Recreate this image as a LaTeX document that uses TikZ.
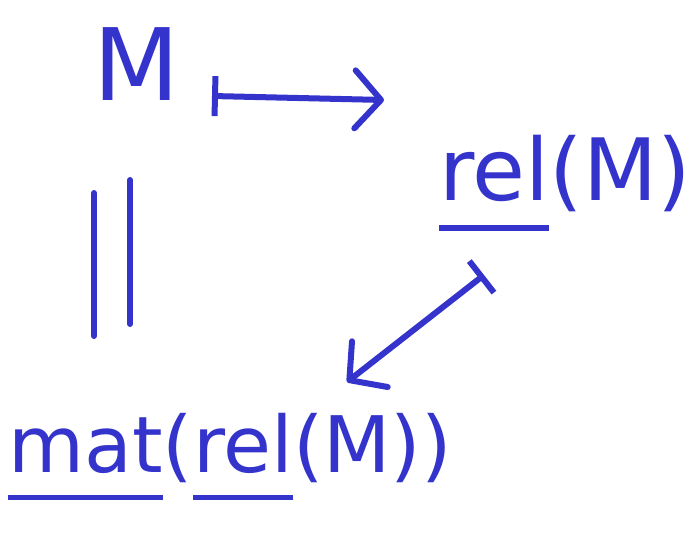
\documentclass[tikz,border=0pt]{standalone}
\usepackage{fontspec}
\setmainfont{DejaVu Sans}
\usetikzlibrary{arrows.meta}
\definecolor{ink}{RGB}{52,52,204}
\tikzset{
  hand/.style={text=ink, inner sep=0pt, anchor=base},
  pen/.style={draw=ink, line width=6pt, line cap=round, line join=round},
  mapsarrow/.style={pen, {Bar[width=40pt]}-{Straight Barb[length=26pt,width=58pt,round]}},
}
% underline set well below the baseline, as a pen stroke
\newcommand\penul[1]{\setbox0\hbox{#1}\rlap{\rule[-0.36em]{\wd0}{0.07em}}\box0}

\begin{document}
\begin{tikzpicture}[x=1pt,y=-1pt]
\useasboundingbox (0,0) rectangle (695,543);

\node[hand, font=\fontsize{100}{100}\selectfont] (M) at (137,100) {M};
\node[hand, font=\fontsize{86}{86}\selectfont] (rel) at (565,200) {\penul{rel}(M)};
\node[hand, font=\fontsize{78}{78}\selectfont] (mat) at (230,472) {\penul{mat}(\penul{rel}(M))};

% M |-> rel(M)
\coordinate (a1s) at (212,96);
\coordinate (a1e) at (384,100);
\draw[mapsarrow] (a1s) -- (a1e);

% rel(M) |-> mat(rel(M))
\coordinate (a2s) at (484,275);
\coordinate (a2e) at (347,382);
\draw[mapsarrow] (a2s) -- (a2e);

% equality between M and mat(rel(M))
\coordinate (e1t) at (94,193);
\coordinate (e1b) at (94,336);
\coordinate (e2t) at (130,180);
\coordinate (e2b) at (130,324);
\draw[pen] (e1t) -- (e1b);
\draw[pen] (e2t) -- (e2b);
\end{tikzpicture}
\end{document}
